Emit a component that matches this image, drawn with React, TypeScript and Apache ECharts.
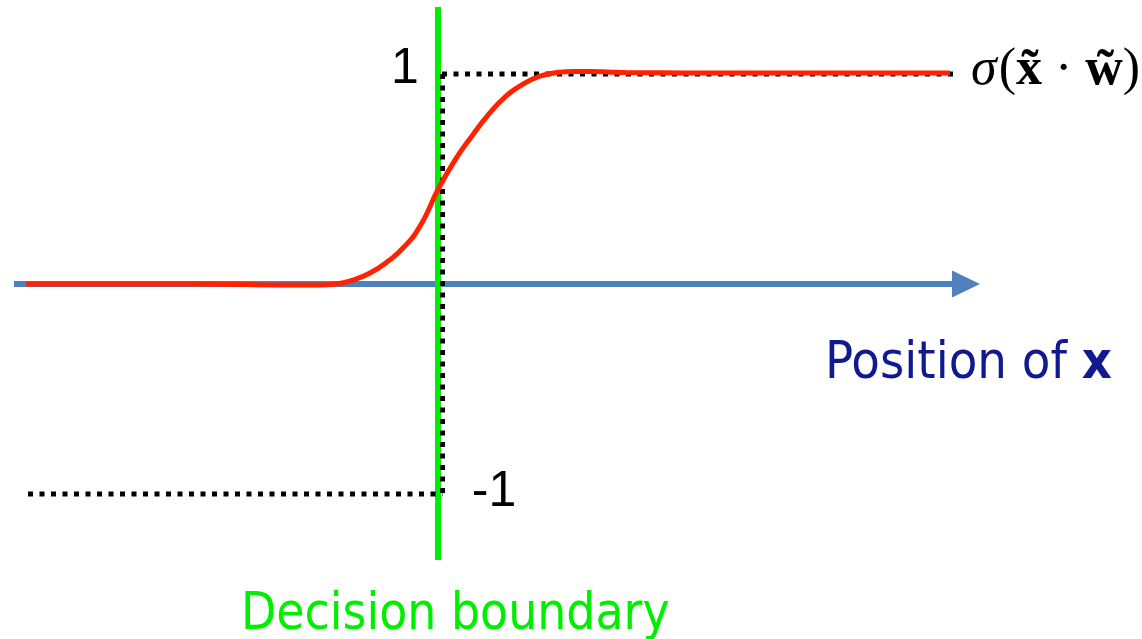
import React, { useEffect, useRef } from "react";
import * as echarts from "echarts";

// Horizontal position (0 = decision boundary) and sigmoid output of the red curve
const curveX = [-4.14, -2.5, -1.38, -1.21, -1.04, -0.87, -0.7, -0.53, -0.36, -0.19, -0.02, 0.15, 0.32, 0.49, 0.66, 0.83, 1.0, 1.17, 1.34, 1.51, 1.68, 1.85, 3.1, 5.1];
const curveY = [0, 0, -0.005, -0.005, 0, 0.019, 0.052, 0.105, 0.176, 0.283, 0.45, 0.59, 0.705, 0.81, 0.895, 0.952, 0.99, 1.007, 1.012, 1.012, 1.01, 1.007, 1.005, 1.005];

// Axis of x positions (blue arrow)
const axisStart = -4.26;
const axisEnd = 5.26;

// Decision boundary (green line)
const boundaryX = -0.02;
const boundaryTop = 1.319;
const boundaryBottom = -1.314;

// Reference levels (dotted lines) and their labels
const levelValues = [1, -1];
const levelLabels = ["1", "-1"];
const topLevelEnd = 5.15;
const bottomLevelStart = -4.12;
const dottedX = 0.025;

const curveLabel = "{s|σ}{p|(}{b|x\u0303}{d|·}{b|w\u0303}{p|)}";
const axisTitle = "{n|Position of }{b|x}";
const boundaryTitle = "Decision boundary";

export default function App() {
  const ref = useRef<HTMLDivElement>(null);
  useEffect(() => {
    if (!ref.current) return;
    const chart = echarts.init(ref.current, undefined, { renderer: "svg" });
    const dotted = (data: number[][]) => ({
      type: "line",
      data,
      symbol: "none",
      silent: true,
      lineStyle: { color: "#000", width: 5, type: [5, 6.5], cap: "butt" },
    });
    chart.setOption({
      animation: false,
      backgroundColor: "#fff",
      grid: { left: 0, right: 0, top: 0, bottom: 0 },
      xAxis: { type: "value", min: -4.4, max: 7.02, show: false },
      yAxis: { type: "value", min: -1.6905, max: 1.3524, show: false },
      series: [
        {
          type: "line",
          silent: true,
          data: [
            { value: [axisStart, 0], symbol: "none" },
            { value: [axisEnd, 0], symbol: "triangle", symbolSize: [27, 28], symbolRotate: -90 },
          ],
          symbol: "none",
          itemStyle: { color: "#4f81bd" },
          lineStyle: { color: "#4f81bd", width: 6 },
        },
        {
          type: "line",
          silent: true,
          data: [
            [boundaryX, boundaryTop],
            [boundaryX, boundaryBottom],
          ],
          symbol: "none",
          lineStyle: { color: "#00ee00", width: 6 },
        },
        dotted([[0.02, levelValues[0]], [topLevelEnd, levelValues[0]]]),
        dotted([[dottedX, levelValues[0]], [dottedX, levelValues[1]]]),
        dotted([[bottomLevelStart, levelValues[1]], [dottedX, levelValues[1]]]),
        {
          type: "line",
          silent: true,
          data: curveX.map((x, i) => [x, curveY[i]]),
          smooth: 0.5,
          symbol: "none",
          lineStyle: { color: "#ff2200", width: 5 },
        },
      ],
      graphic: [
        {
          type: "text",
          x: 405,
          y: 66,
          style: { text: levelLabels[0], fontFamily: "Liberation Sans, Arial", fontSize: 50, fill: "#000", align: "center", verticalAlign: "middle" },
        },
        {
          type: "text",
          x: 494,
          y: 489,
          style: { text: levelLabels[1], fontFamily: "Liberation Sans, Arial", fontSize: 50, fill: "#000", align: "center", verticalAlign: "middle" },
        },
        {
          type: "text",
          x: 971,
          y: 66,
          style: {
            text: curveLabel,
            verticalAlign: "middle",
            align: "left",
            fill: "#000",
            rich: {
              s: { fontFamily: "Liberation Serif", fontStyle: "italic", fontSize: 52, fill: "#000", padding: [0, 2, 0, 0] },
              p: { fontFamily: "Liberation Serif", fontSize: 52, fill: "#000" },
              b: { fontFamily: "Liberation Serif", fontWeight: "bold", fontSize: 52, fill: "#000" },
              d: { fontFamily: "Liberation Serif", fontSize: 52, fill: "#000", padding: [0, 13, 0, 13] },
            },
          },
        },
        {
          type: "text",
          x: 825,
          y: 360,
          style: {
            text: axisTitle,
            verticalAlign: "middle",
            align: "left",
            rich: {
              n: { fontFamily: "DejaVu Sans Condensed, DejaVu Sans", fontSize: 52, fill: "#101a90" },
              b: { fontFamily: "DejaVu Sans Condensed, DejaVu Sans", fontWeight: "bold", fontSize: 52, fill: "#101a90" },
            },
          },
        },
        {
          type: "text",
          x: 241,
          y: 611,
          style: { text: boundaryTitle, fontFamily: "DejaVu Sans Condensed, DejaVu Sans", fontSize: 51, fill: "#00ee00", align: "left", verticalAlign: "middle" },
        },
      ],
    });
    return () => chart.dispose();
  }, []);
  return <div ref={ref} style={{ position: "fixed", left: 0, top: 0, width: 1142, height: 639 }} />;
}
